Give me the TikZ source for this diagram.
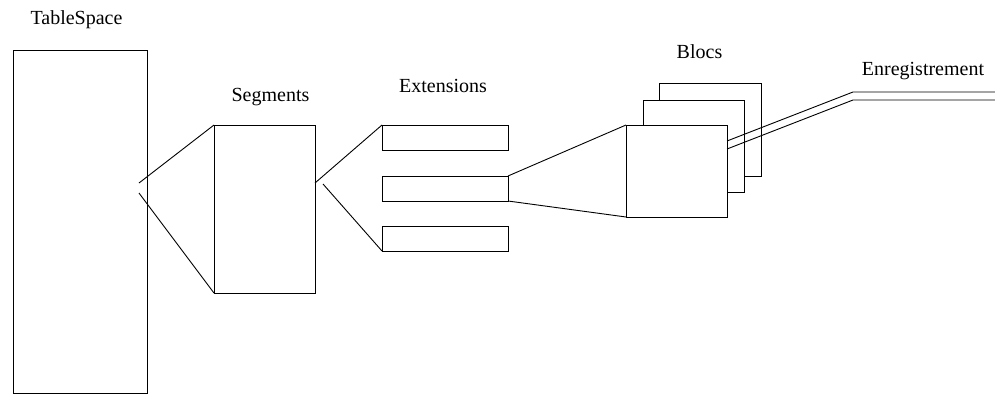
\documentclass[tikz,border=0pt]{standalone}
\usepackage{fontspec}
\setmainfont{Liberation Serif}
\begin{document}
\begin{tikzpicture}[x=1pt,y=-1pt,line width=0.9pt,
  box/.style={draw, fill=white, inner sep=0pt, outer sep=0pt, anchor=north west},
  lbl/.style={anchor=base, inner sep=0pt, font=\fontsize{20}{24}\selectfont}]
\useasboundingbox (0,0) rectangle (995,394);
% labels
\node[lbl] (tslbl) at (76.5,24) {TableSpace};
\node[lbl] (seglbl) at (270.5,101) {Segments};
\node[lbl] (extlbl) at (443,92) {Extensions};
\node[lbl] (bloclbl) at (699.5,58) {Blocs};
\node[lbl] (enrlbl) at (923,75) {Enregistrement};
% tablespace
\node[box, minimum width=134, minimum height=343] (ts) at (13,50) {};
% segment
\node[box, minimum width=101, minimum height=168] (seg) at (214,125) {};
% extensions
\node[box, minimum width=126, minimum height=25] (ext1) at (382,125) {};
\node[box, minimum width=126, minimum height=25] (ext2) at (382,176) {};
\node[box, minimum width=126, minimum height=25] (ext3) at (382,226) {};
% blocs
\node[box, minimum width=102, minimum height=93] (b3) at (659,83) {};
\node[box, minimum width=101, minimum height=92] (b2) at (643,100) {};
\node[box, minimum width=101, minimum height=92] (b1) at (626,125) {};
% connectors
\coordinate (tsA) at (139,183);
\coordinate (tsB) at (139,193);
\draw (tsA) -- (seg.north west);
\draw (tsB) -- (seg.south west);
\coordinate (segA) at (315,183);
\coordinate (segB) at (323,184);
\draw (segA) -- (ext1.north west);
\draw (segB) -- (ext3.south west);
\draw (ext2.north east) -- (b1.north west);
\draw (ext2.south east) -- (b1.south west);
% enregistrement
\coordinate (r1a) at (727,141);
\coordinate (r1b) at (853,92);
\coordinate (r1c) at (995,92);
\coordinate (r2a) at (727,149);
\coordinate (r2b) at (853,100);
\coordinate (r2c) at (995,100);
\draw (r1a) -- (r1b) -- (r1c);
\draw (r2a) -- (r2b) -- (r2c);
\end{tikzpicture}
\end{document}
